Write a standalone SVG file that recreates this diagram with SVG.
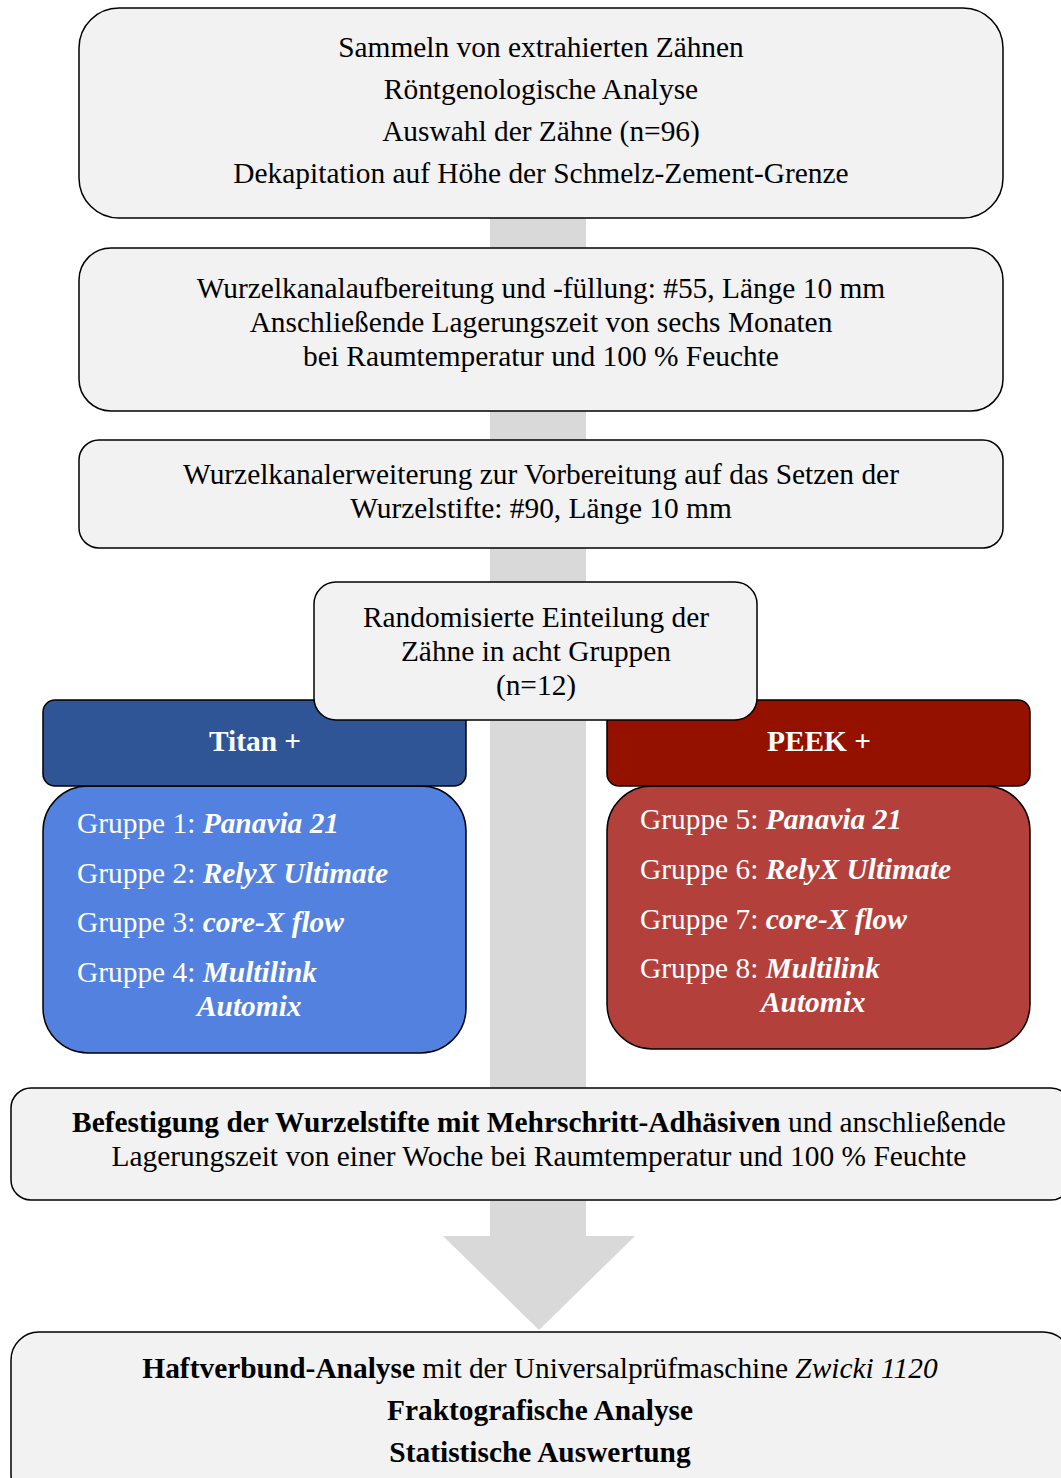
<svg xmlns="http://www.w3.org/2000/svg" width="1061" height="1478" viewBox="0 0 1061 1478">
<style>
text{font-family:"Liberation Serif","Times New Roman",serif;font-size:29.4px;fill:#000}
.c{text-anchor:middle}
.box{fill:#F2F2F2;stroke:#000;stroke-width:1.5}
.w{fill:#fff}
.b{font-weight:bold}
.i{font-style:italic}
.bi{font-weight:bold;font-style:italic}
</style>
<rect width="1061" height="1478" fill="#fff"/>
<g id="connectors">
<polygon points="490,210 586,210 586,1236 635,1236 539,1330 443,1236 490,1236" fill="#D9D9D9"/>
</g>
<g id="n1">
<rect class="box" x="79" y="8" width="924" height="210" rx="40"/>
<text class="c" x="541" y="57">Sammeln von extrahierten Zähnen</text>
<text class="c" x="541" y="99">Röntgenologische Analyse</text>
<text class="c" x="541" y="141">Auswahl der Zähne (n=96)</text>
<text class="c" x="541" y="183">Dekapitation auf Höhe der Schmelz-Zement-Grenze</text>
</g>
<g id="n2">
<rect class="box" x="79" y="248" width="924" height="163" rx="32"/>
<text class="c" x="541" y="298">Wurzelkanalaufbereitung und -füllung: #55, Länge 10 mm</text>
<text class="c" x="541" y="332">Anschließende Lagerungszeit von sechs Monaten</text>
<text class="c" x="541" y="366">bei Raumtemperatur und 100 % Feuchte</text>
</g>
<g id="n3">
<rect class="box" x="79" y="440" width="924" height="108" rx="20"/>
<text class="c" x="541" y="484">Wurzelkanalerweiterung zur Vorbereitung auf das Setzen der</text>
<text class="c" x="541" y="518">Wurzelstifte: #90, Länge 10 mm</text>
</g>
<g id="titan">
<rect x="43" y="786" width="423" height="267" rx="45" fill="#5381E0" stroke="#000" stroke-width="1.5"/>
<rect x="43" y="700" width="423" height="86" rx="12" fill="#2F5597" stroke="#000" stroke-width="1.5"/>
<text class="c b w" x="255" y="751">Titan +</text>
<text class="w" x="77" y="833">Gruppe 1: <tspan class="bi w">Panavia 21</tspan></text>
<text class="w" x="77" y="883">Gruppe 2: <tspan class="bi w">RelyX Ultimate</tspan></text>
<text class="w" x="77" y="932">Gruppe 3: <tspan class="bi w">core-X flow</tspan></text>
<text class="w" x="77" y="982">Gruppe 4: <tspan class="bi w">Multilink</tspan></text>
<text class="bi w" x="197" y="1016">Automix</text>
</g>
<g id="peek">
<rect x="607" y="786" width="423" height="263" rx="45" fill="#B3403B" stroke="#000" stroke-width="1.5"/>
<rect x="607" y="700" width="423" height="86" rx="12" fill="#941100" stroke="#000" stroke-width="1.5"/>
<text class="c b w" x="819" y="751">PEEK +</text>
<text class="w" x="640" y="829">Gruppe 5: <tspan class="bi w">Panavia 21</tspan></text>
<text class="w" x="640" y="879">Gruppe 6: <tspan class="bi w">RelyX Ultimate</tspan></text>
<text class="w" x="640" y="929">Gruppe 7: <tspan class="bi w">core-X flow</tspan></text>
<text class="w" x="640" y="978">Gruppe 8: <tspan class="bi w">Multilink</tspan></text>
<text class="bi w" x="761" y="1012">Automix</text>
</g>
<g id="n4">
<rect class="box" x="314" y="582" width="443" height="138" rx="22"/>
<text class="c" x="536" y="627">Randomisierte Einteilung der</text>
<text class="c" x="536" y="661">Zähne in acht Gruppen</text>
<text class="c" x="536" y="695">(n=12)</text>
</g>
<g id="n5">
<rect class="box" x="11" y="1088" width="1060" height="112" rx="20"/>
<text class="c" x="539" y="1132"><tspan class="b">Befestigung der Wurzelstifte mit Mehrschritt-Adhäsiven</tspan> und anschließende</text>
<text class="c" x="539" y="1166">Lagerungszeit von einer Woche bei Raumtemperatur und 100 % Feuchte</text>
</g>
<g id="n6">
<rect class="box" x="11" y="1332" width="1060" height="170" rx="28"/>
<text class="c" x="540" y="1378"><tspan class="b">Haftverbund-Analyse</tspan> mit der Universalprüfmaschine <tspan class="i">Zwicki 1120</tspan></text>
<text class="c b" x="540" y="1420">Fraktografische Analyse</text>
<text class="c b" x="540" y="1462">Statistische Auswertung</text>
</g>
</svg>
